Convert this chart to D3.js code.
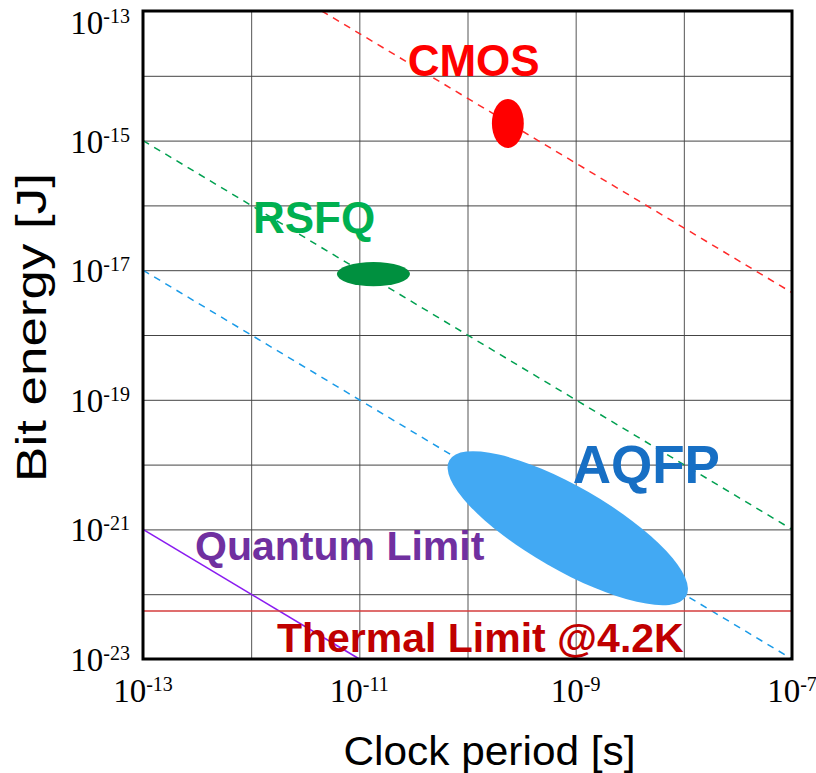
<!DOCTYPE html>
<html>
<head>
<meta charset="utf-8">
<script src="https://cdn.jsdelivr.net/npm/d3@7"></script>
<style>
  body { margin: 0; background: #fff; }
  svg { display: block; }
</style>
</head>
<body>
<div id="chart"></div>
<script>
// --- data ---
const gridPeriods = [1e-13, 1e-12, 1e-11, 1e-10, 1e-9, 1e-8, 1e-7];
const gridEnergies = [1e-13, 1e-14, 1e-15, 1e-16, 1e-17, 1e-18, 1e-19, 1e-20, 1e-21, 1e-22, 1e-23];
const xLabelTicks = [1e-13, 1e-11, 1e-9, 1e-7];
const xLabelExp = ['-13', '-11', '-9', '-7'];
const yLabelTicks = [1e-13, 1e-15, 1e-17, 1e-19, 1e-21, 1e-23];
const yLabelExp = ['-13', '-15', '-17', '-19', '-21', '-23'];

// trend lines [period, energy]
const cmosTrend = [[4.5e-12, 1e-13], [1e-7, 4.5e-18]];
const rsfqTrend = [[1e-13, 1e-15], [1e-7, 1e-21]];
const aqfpTrend = [[1e-13, 1e-17], [1e-7, 1e-23]];
const quantumLimit = [[1e-13, 1e-21], [1e-11, 1e-23]];
const thermalLimit = 5.5e-23;

// regions: major axis end points [period, energy] and minor/major ratio
const cmosRegion = [[2.36e-10, 4.4e-15], [2.36e-10, 7.7e-16]];
const rsfqRegion = [[6.2e-12, 8.7e-18], [2.94e-11, 8.7e-18]];
const aqfpRegion = [[6.8e-11, 1.17e-20], [1.05e-8, 9.3e-23]];
const regionRatios = [0.65, 0.33, 0.305];

// annotation anchors [period, energy]
const labelNames = ['CMOS', 'RSFQ', 'AQFP', 'Quantum Limit', 'Thermal Limit @4.2K'];
const labelAnchors = [[2.8e-11, 1.0e-14], [1.04e-12, 3.75e-17], [9.4e-10, 5.2e-21], [3.03e-13, 3.37e-22], [1.73e-12, 1.28e-23]];

// --- layout ---
const width = 816, height = 773;
const plot = { left: 143, right: 792, top: 11, bottom: 659 };

const svg = d3.select('#chart').append('svg')
  .attr('width', width)
  .attr('height', height);

const x = d3.scaleLog().domain([1e-13, 1e-7]).range([plot.left, plot.right]);
const y = d3.scaleLog().domain([1e-13, 1e-23]).range([plot.top, plot.bottom]);

// grid
svg.append('g')
  .attr('transform', `translate(0,${plot.bottom})`)
  .call(d3.axisBottom(x).tickValues(gridPeriods).tickSize(-(plot.bottom - plot.top)).tickFormat(''))
  .call(g => g.select('.domain').remove())
  .call(g => g.selectAll('line').attr('stroke', '#555').attr('stroke-width', 1));

svg.append('g')
  .attr('transform', `translate(${plot.left},0)`)
  .call(d3.axisLeft(y).tickValues(gridEnergies).tickSize(-(plot.right - plot.left)).tickFormat(''))
  .call(g => g.select('.domain').remove())
  .call(g => g.selectAll('line').attr('stroke', '#444').attr('stroke-width', 1));

const line = d3.line().x(d => x(d[0])).y(d => y(d[1]));

// dashed trend lines
const trends = [
  { pts: cmosTrend, color: '#ff2a2a' },
  { pts: rsfqTrend, color: '#00a050' },
  { pts: aqfpTrend, color: '#1a9be8' }
];
svg.selectAll('.trend')
  .data(trends)
  .enter()
  .append('path')
  .attr('class', 'trend')
  .attr('d', d => line(d.pts))
  .attr('fill', 'none')
  .attr('stroke', d => d.color)
  .attr('stroke-width', 1.5)
  .attr('stroke-dasharray', '7,6');

// limits
svg.append('path')
  .attr('d', line(quantumLimit))
  .attr('fill', 'none')
  .attr('stroke', '#8a1cf0')
  .attr('stroke-width', 1.6);

svg.append('line')
  .attr('x1', plot.left).attr('x2', plot.right)
  .attr('y1', y(thermalLimit)).attr('y2', y(thermalLimit))
  .attr('stroke', '#d43c3c')
  .attr('stroke-width', 1.6);

// regions
const regions = [
  { axis: cmosRegion, ratio: regionRatios[0], color: '#ff0000' },
  { axis: rsfqRegion, ratio: regionRatios[1], color: '#00903f' },
  { axis: aqfpRegion, ratio: regionRatios[2], color: '#42a9f3' }
];
svg.selectAll('.region')
  .data(regions)
  .enter()
  .append('ellipse')
  .attr('class', 'region')
  .each(function (d) {
    const x1 = x(d.axis[0][0]), y1 = y(d.axis[0][1]);
    const x2 = x(d.axis[1][0]), y2 = y(d.axis[1][1]);
    const a = Math.hypot(x2 - x1, y2 - y1) / 2;
    const ang = Math.atan2(y2 - y1, x2 - x1) * 180 / Math.PI;
    d3.select(this)
      .attr('rx', a)
      .attr('ry', a * d.ratio)
      .attr('transform', `translate(${(x1 + x2) / 2},${(y1 + y2) / 2}) rotate(${ang})`);
  })
  .attr('fill', d => d.color);

// annotations
const labelStyles = [
  { color: '#ff0000', size: 44 },
  { color: '#00b050', size: 44 },
  { color: '#176fc4', size: 53 },
  { color: '#7030a0', size: 41 },
  { color: '#c00000', size: 41 }
];
svg.selectAll('.note')
  .data(labelNames)
  .enter()
  .append('text')
  .attr('class', 'note')
  .attr('x', (d, i) => x(labelAnchors[i][0]))
  .attr('y', (d, i) => y(labelAnchors[i][1]))
  .attr('fill', (d, i) => labelStyles[i].color)
  .style('font-family', '"Liberation Sans", Arial, sans-serif')
  .style('font-weight', 'bold')
  .style('font-size', (d, i) => labelStyles[i].size + 'px')
  .text(d => d);

// frame
svg.append('rect')
  .attr('x', plot.left).attr('y', plot.top)
  .attr('width', plot.right - plot.left)
  .attr('height', plot.bottom - plot.top)
  .attr('fill', 'none')
  .attr('stroke', '#000')
  .attr('stroke-width', 3);

// tick labels
const serif = '"Liberation Serif", "Times New Roman", serif';

const xl = svg.selectAll('.xlab')
  .data(xLabelTicks)
  .enter()
  .append('text')
  .attr('class', 'xlab')
  .attr('x', d => x(d))
  .attr('y', 702)
  .attr('text-anchor', 'middle')
  .style('font-family', serif)
  .style('font-size', '33px')
  .attr('fill', '#000');
xl.append('tspan').text('10');
xl.append('tspan').attr('dy', -11).style('font-size', '20px').text((d, i) => xLabelExp[i]);

const yl = svg.selectAll('.ylab')
  .data(yLabelTicks)
  .enter()
  .append('text')
  .attr('class', 'ylab')
  .attr('x', plot.left - 13)
  .attr('y', (d, i) => y(d) + (i === 0 ? 23 : 12))
  .attr('text-anchor', 'end')
  .style('font-family', serif)
  .style('font-size', '33px')
  .attr('fill', '#000');
yl.append('tspan').text('10');
yl.append('tspan').attr('dy', -11).style('font-size', '20px').text((d, i) => yLabelExp[i]);

// axis titles (stretched like the source artwork)
svg.append('text')
  .attr('transform', 'translate(489.5,765) scale(1.06,1)')
  .attr('text-anchor', 'middle')
  .style('font-family', '"Liberation Sans", Arial, sans-serif')
  .style('font-size', '40px')
  .text('Clock period [s]');

svg.append('text')
  .attr('transform', 'translate(46,327.5) rotate(-90) scale(1.26,1)')
  .attr('text-anchor', 'middle')
  .style('font-family', '"Liberation Sans", Arial, sans-serif')
  .style('font-size', '42px')
  .text('Bit energy [J]');
</script>
</body>
</html>
